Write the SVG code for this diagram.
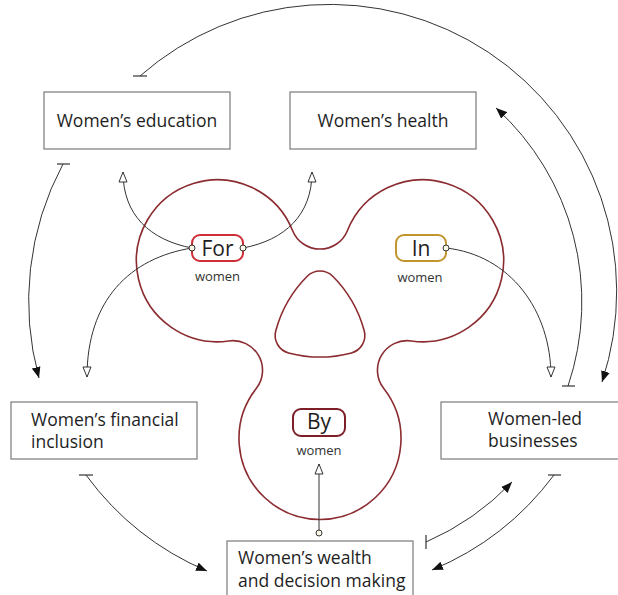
<svg xmlns="http://www.w3.org/2000/svg" width="618" height="595" viewBox="0 0 618 595">
<style>
.box{fill:#fff;stroke:#7a7a7a;stroke-width:1.2}
.lbl{font-family:"Open Sans","Noto Sans",sans-serif;font-size:17.5px;fill:#1e1e1e}
.mid{text-anchor:middle}
.con{fill:none;stroke:#333;stroke-width:1}
.tbar{stroke:#333;stroke-width:1.2}
.pill{fill:#fff;stroke-width:2}
.big{font-family:"Open Sans","Noto Sans",sans-serif;font-size:21px;fill:#1e1e1e;text-anchor:middle}
.sm{font-family:"Open Sans","Noto Sans",sans-serif;font-size:13px;fill:#333;text-anchor:middle}
.dot{fill:#fbf7e6;stroke:#333;stroke-width:1}
.tre{fill:none;stroke:#8b2c31;stroke-width:1.6}
</style>
<defs>
<marker id="af" viewBox="0 0 10 8" refX="10" refY="4" markerWidth="11" markerHeight="9" orient="auto" markerUnits="userSpaceOnUse"><path d="M0,0 L10,4 L0,8 z" fill="#111"/></marker>
<marker id="ah" viewBox="-1 -1 12 10" refX="10" refY="4" markerWidth="12" markerHeight="10" orient="auto" markerUnits="userSpaceOnUse"><path d="M0,0 L10,4 L0,8 z" fill="#fff" stroke="#333" stroke-width="1"/></marker>
</defs>

<g id="trefoil">
<path class="tre" d="M347.47 230.47 A81 81 0 1 1 411.27 340.97 A29.6 29.6 0 0 0 383.79 388.56 A81 81 0 1 1 256.21 388.56 A29.6 29.6 0 0 0 228.73 340.97 A81 81 0 1 1 292.53 230.47 A29.6 29.6 0 0 0 347.47 230.47 Z"/>
<path class="tre" d="M364.22 330.80 A18 18 0 0 1 351.46 352.90 A122.7 122.7 0 0 1 288.54 352.90 A18 18 0 0 1 275.78 330.80 A122.7 122.7 0 0 1 307.24 276.31 A18 18 0 0 1 332.76 276.31 A122.7 122.7 0 0 1 364.22 330.80 Z"/>
</g>

<g id="connectors">
<path class="con" d="M140 76 A287 287 0 0 1 602 382" marker-end="url(#af)"/>
<line class="tbar" x1="133" y1="76" x2="147" y2="76"/>
<path class="con" d="M63 164 A291 291 0 0 0 39 378" marker-end="url(#af)"/>
<line class="tbar" x1="57" y1="164" x2="70" y2="164"/>
<path class="con" d="M568 386 A262 262 0 0 0 496 108" marker-end="url(#af)"/>
<line class="tbar" x1="562" y1="386" x2="575" y2="386"/>
<path class="con" d="M86 475 A292 292 0 0 0 207 571" marker-end="url(#af)"/>
<line class="tbar" x1="79" y1="475" x2="93" y2="475"/>
<path class="con" d="M554 475 A292 292 0 0 1 432 570" marker-end="url(#af)"/>
<line class="tbar" x1="548" y1="475" x2="561" y2="475"/>
<path class="con" d="M426 542 A264 264 0 0 0 512 482" marker-end="url(#af)"/>
<line class="tbar" x1="426" y1="535" x2="426" y2="549"/>
<path class="con" d="M192 248 C150 240 123 215 123 172" marker-end="url(#ah)"/>
<path class="con" d="M192 248 C130 258 87 300 87 377" marker-end="url(#ah)"/>
<path class="con" d="M243 248 C285 240 312 215 312 172" marker-end="url(#ah)"/>
<path class="con" d="M446 248 C510 255 551 310 551 377" marker-end="url(#ah)"/>
<path class="con" d="M319 533 L319 464" marker-end="url(#ah)"/>
</g>

<g id="education">
<rect class="box" x="44" y="92" width="186" height="57"/>
<text class="lbl mid" x="137" y="127">Women’s education</text>
</g>
<g id="health">
<rect class="box" x="290" y="92" width="186" height="57"/>
<text class="lbl mid" x="383" y="127">Women’s health</text>
</g>
<g id="financial">
<rect class="box" x="11" y="402" width="186" height="57"/>
<text class="lbl" x="31" y="426">Women’s financial</text>
<text class="lbl" x="31" y="448">inclusion</text>
</g>
<g id="womenled">
<rect class="box" x="441" y="402" width="190" height="57"/>
<text class="lbl" x="488" y="425">Women-led</text>
<text class="lbl" x="488" y="447">businesses</text>
</g>
<g id="wealth">
<rect class="box" x="227" y="541" width="186" height="64"/>
<text class="lbl" x="238" y="564">Women’s wealth</text>
<text class="lbl" x="238" y="587">and decision making</text>
</g>

<g id="for">
<rect class="pill" x="192" y="235" width="51" height="26" rx="8" stroke="#cf2e36"/>
<text class="big" x="217.5" y="255.5">For</text>
<text class="sm" x="217.5" y="281">women</text>
</g>
<g id="in">
<rect class="pill" x="396" y="235" width="50" height="26" rx="8" stroke="#c2962f"/>
<text class="big" x="421" y="255.5">In</text>
<text class="sm" x="420" y="282">women</text>
</g>
<g id="by">
<rect class="pill" x="293" y="409" width="52" height="27" rx="8" stroke="#7d1f28"/>
<text class="big" x="319" y="429">By</text>
<text class="sm" x="319" y="455">women</text>
</g>

<g id="ports">
<circle class="dot" cx="192" cy="248" r="3"/>
<circle class="dot" cx="243" cy="248" r="3"/>
<circle class="dot" cx="446" cy="248" r="3"/>
<circle class="dot" cx="319" cy="533" r="3"/>
</g>
</svg>
